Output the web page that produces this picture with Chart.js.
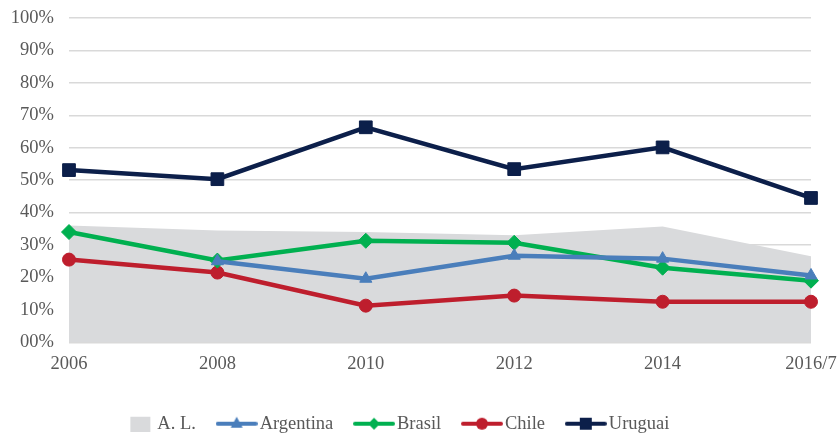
<!DOCTYPE html>
<html>
<head>
<meta charset="utf-8">
<script src="https://cdn.jsdelivr.net/npm/chart.js@4"></script>
<style>
  html, body { margin: 0; padding: 0; background: #fff; }
  #wrap { width: 838px; height: 436px; position: relative; }
</style>
</head>
<body>
<div id="wrap"><canvas id="chart"></canvas></div>
<script>
const years = ['2006', '2008', '2010', '2012', '2014', '2016/7'];
const yTicks = ['00%', '10%', '20%', '30%', '40%', '50%', '60%', '70%', '80%', '90%', '100%'];

const alValues = [36, 34.5, 34, 33, 35.7, 26.5];
const argentinaValues = [null, 25, 19.6, 26.7, 25.8, 20.6];
const brasilValues = [34, 25.2, 31.3, 30.7, 23, 19];
const chileValues = [25.5, 21.5, 11.3, 14.4, 12.5, 12.5];
const uruguaiValues = [53.1, 50.3, 66.3, 53.4, 60.1, 44.5];

const colors = {
  al: '#d9dadc',
  argentina: '#4a7ebb',
  brasil: '#00b050',
  chile: '#be1e2d',
  uruguai: '#0c1f4a'
};

const serif = '"Liberation Serif", "Times New Roman", serif';

// small canvases used as legend symbols (line + marker)
const makeLegendIcon = (color, marker) => {
  const c = document.createElement('canvas');
  c.width = 42;
  c.height = 16;
  const ctx = c.getContext('2d');
  if (marker === 'box') {
    ctx.fillStyle = color;
    ctx.fillRect(17, 1, 20, 15);
    return c;
  }
  ctx.strokeStyle = color;
  ctx.fillStyle = color;
  ctx.lineWidth = 4;
  ctx.lineCap = 'round';
  ctx.beginPath();
  ctx.moveTo(2, 8);
  ctx.lineTo(40, 8);
  ctx.stroke();
  ctx.beginPath();
  if (marker === 'triangle') {
    ctx.moveTo(21, 1);
    ctx.lineTo(27, 12);
    ctx.lineTo(15, 12);
  } else if (marker === 'diamond') {
    ctx.moveTo(21, 2);
    ctx.lineTo(27, 8);
    ctx.lineTo(21, 14);
    ctx.lineTo(15, 8);
  } else if (marker === 'circle') {
    ctx.arc(21, 8, 6, 0, Math.PI * 2);
  } else {
    ctx.rect(15, 2, 12, 12);
  }
  ctx.closePath();
  ctx.fill();
  return c;
};

const legendIcons = [
  makeLegendIcon(colors.al, 'box'),
  makeLegendIcon(colors.argentina, 'triangle'),
  makeLegendIcon(colors.brasil, 'diamond'),
  makeLegendIcon(colors.chile, 'circle'),
  makeLegendIcon(colors.uruguai, 'square')
];

const lineSet = (label, data, color, style, radius) => ({
  label: label,
  data: data,
  borderColor: color,
  backgroundColor: color,
  borderWidth: 4.5,
  pointStyle: style,
  pointRadius: radius,
  pointHoverRadius: radius,
  pointBorderWidth: 1,
  tension: 0,
  fill: false
});

// nudge the legend row a bit to the left, like the original
const legendShift = {
  id: 'legendShift',
  afterLayout: (chart) => {
    if (!chart.legend) return;
    chart.legend.left -= 24;
    chart.legend.right -= 24;
  }
};

new Chart(document.getElementById('chart'), {
  type: 'line',
  data: {
    labels: years,
    datasets: [
      {
        label: 'A. L.',
        data: alValues,
        borderWidth: 0,
        borderColor: colors.al,
        backgroundColor: colors.al,
        pointRadius: 0,
        fill: 'origin'
      },
      lineSet('Argentina', argentinaValues, colors.argentina, 'triangle', 7),
      lineSet('Brasil', brasilValues, colors.brasil, 'rectRot', 7.5),
      lineSet('Chile', chileValues, colors.chile, 'circle', 6.5),
      lineSet('Uruguai', uruguaiValues, colors.uruguai, 'rect', 9)
    ]
  },
  plugins: [legendShift],
  options: {
    responsive: true,
    maintainAspectRatio: false,
    animation: false,
    layout: { padding: { top: 18, left: 0, right: 0, bottom: -7 } },
    scales: {
      x: {
        offset: false,
        afterFit: (scale) => {
          scale.paddingRight = 27;
          scale.height += 1;
        },
        grid: { display: false, drawTicks: false },
        border: { display: false },
        ticks: {
          color: '#595959',
          font: { family: serif, size: 18.5 },
          padding: 11,
          maxRotation: 0,
          autoSkip: false
        }
      },
      y: {
        min: 0,
        max: 100,
        afterFit: (scale) => {
          scale.width = 69;
          scale.paddingTop = 0;
        },
        grid: { color: '#d9d9d9', lineWidth: 1.5, drawTicks: false },
        border: { display: false },
        ticks: {
          stepSize: 10,
          color: '#595959',
          font: { family: serif, size: 18.5 },
          padding: 15,
          callback: (value) => yTicks[Math.round(value / 10)]
        }
      }
    },
    plugins: {
      filler: { drawTime: 'beforeDatasetsDraw' },
      tooltip: { enabled: false },
      legend: {
        position: 'bottom',
        labels: {
          color: '#595959',
          font: { family: serif, size: 18.5 },
          usePointStyle: true,
          pointStyleWidth: 27.5,
          padding: 27,
          generateLabels: (chart) => {
            const items = Chart.defaults.plugins.legend.labels.generateLabels(chart);
            return items.map((item, i) => {
              item.pointStyle = legendIcons[i];
              return item;
            });
          }
        }
      }
    }
  }
});
</script>
</body>
</html>
